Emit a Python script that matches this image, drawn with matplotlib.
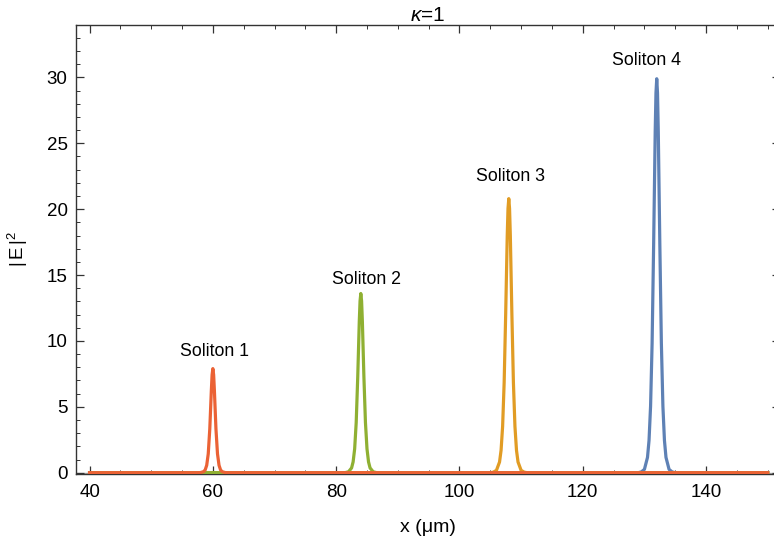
import matplotlib.pyplot as plt
from matplotlib.ticker import MultipleLocator

# Soliton profiles |E|^2 (x in um)
x_sol1 = [40, 57.5, 58, 58.5, 58.75, 59, 59.25, 59.5, 59.75, 59.875, 60,
          60.125, 60.25, 60.5, 60.75, 61, 61.25, 61.5, 62, 62.5, 150]
y_sol1 = [0, 0, 0.01, 0.08, 0.21, 0.56, 1.43, 3.32, 6.21, 7.43, 7.9,
          7.43, 6.21, 3.32, 1.43, 0.56, 0.21, 0.08, 0.01, 0, 0]

x_sol2 = [40, 81, 81.5, 82, 82.5, 82.75, 83, 83.25, 83.5, 83.75, 83.875, 84,
          84.125, 84.25, 84.5, 84.75, 85, 85.25, 85.5, 86, 86.5, 87, 150]
y_sol2 = [0, 0, 0.01, 0.07, 0.36, 0.82, 1.81, 3.81, 7.27, 11.49, 13.03, 13.6,
          13.03, 11.49, 7.27, 3.81, 1.81, 0.82, 0.36, 0.07, 0.01, 0, 0]

x_sol3 = [40, 105, 105.5, 106, 106.5, 106.75, 107, 107.25, 107.5, 107.75, 107.875, 108,
          108.125, 108.25, 108.5, 108.75, 109, 109.25, 109.5, 110, 110.5, 111, 150]
y_sol3 = [0, 0, 0.04, 0.18, 0.81, 1.70, 3.51, 6.85, 12.10, 18.00, 20.05, 20.8,
          20.05, 18.00, 12.10, 6.85, 3.51, 1.70, 0.81, 0.18, 0.04, 0, 0]

x_sol4 = [40, 129, 129.5, 130, 130.5, 130.75, 131, 131.25, 131.5, 131.75, 131.875, 132,
          132.125, 132.25, 132.5, 132.75, 133, 133.25, 133.5, 134, 134.5, 135, 150]
y_sol4 = [0, 0, 0.06, 0.25, 1.16, 2.45, 5.05, 9.84, 17.39, 25.88, 28.82, 29.9,
          28.82, 25.88, 17.39, 9.84, 5.05, 2.45, 1.16, 0.25, 0.06, 0, 0]

labels = ['Soliton 1', 'Soliton 2', 'Soliton 3', 'Soliton 4']
label_x = [60.2, 85.0, 108.2, 130.4]
label_y = [9.2, 14.7, 22.5, 31.3]

plt.rcParams['font.family'] = ['Liberation Sans', 'DejaVu Sans']
plt.rcParams['mathtext.fontset'] = 'custom'
plt.rcParams['mathtext.rm'] = 'Liberation Sans'
plt.rcParams['mathtext.it'] = 'Liberation Sans:italic'

fig = plt.figure(figsize=(7.74, 5.49), dpi=100)
# right frame edge sits just outside the picture, as in the reference
ax = fig.add_axes([0.0982, 0.1366, 1.0078 - 0.0982, 0.955 - 0.1366])

# Mathematica default colours, first series drawn at the bottom
series = [(x_sol4, y_sol4, '#5E81B5'),
          (x_sol3, y_sol3, '#E19C24'),
          (x_sol2, y_sol2, '#8FB032'),
          (x_sol1, y_sol1, '#EB6235')]
for i, (xs, ys, c) in enumerate(series):
    ax.plot(xs, ys, color=c, linewidth=2.3, solid_joinstyle='round', zorder=2 + i)

ax.axhline(0, color='#aaaaaa', linewidth=1, zorder=1)

for txt, tx, ty in zip(labels, label_x, label_y):
    ax.text(tx, ty, txt, ha='center', va='center', fontsize=12.8)

ax.set_xlim(37.8, 152.0)
ax.set_ylim(-0.1, 34.0)

ax.xaxis.set_major_locator(MultipleLocator(20))
ax.xaxis.set_minor_locator(MultipleLocator(5))
ax.yaxis.set_major_locator(MultipleLocator(5))
ax.yaxis.set_minor_locator(MultipleLocator(1))

ax.tick_params(which='both', direction='in', top=True, right=True, color='#333333')
ax.tick_params(which='major', length=5.5, width=0.9, labelsize=13.5)
ax.tick_params(which='minor', length=3, width=0.7)
ax.tick_params(axis='x', which='major', pad=7)
ax.tick_params(axis='y', which='major', pad=6)

for s in ax.spines.values():
    s.set_color('#333333')
    s.set_linewidth(1)

ax.set_xlabel('x (μm)', fontsize=14, labelpad=13)
ax.set_ylabel(r'$|\,\mathrm{E}\,|^{2}$', fontsize=13.5, labelpad=12)
ax.set_title('$\\kappa$=1', fontsize=15, pad=3)

fig.savefig('out.png', dpi=100)
